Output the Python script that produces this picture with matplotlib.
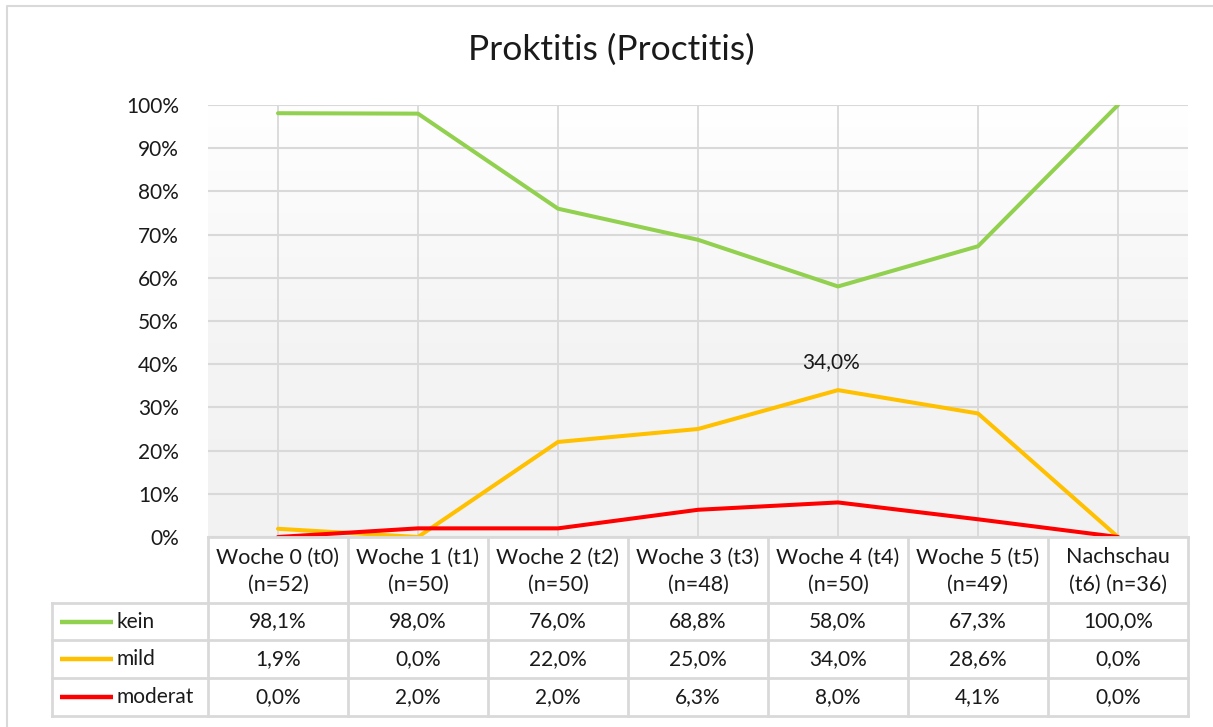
import matplotlib
matplotlib.use("Agg")
import matplotlib.pyplot as plt
import numpy as np
from matplotlib.colors import LinearSegmentedColormap

plt.rcParams['font.family'] = ['Lato', 'DejaVu Sans']

title = "Proktitis (Proctitis)"
categories = ["Woche 0 (t0)\n(n=52)", "Woche 1 (t1)\n(n=50)", "Woche 2 (t2)\n(n=50)",
              "Woche 3 (t3)\n(n=48)", "Woche 4 (t4)\n(n=50)", "Woche 5 (t5)\n(n=49)",
              "Nachschau\n(t6) (n=36)"]
series_names = ["kein", "mild", "moderat"]
kein = [98.1, 98.0, 76.0, 68.8, 58.0, 67.3, 100.0]
mild = [1.9, 0.0, 22.0, 25.0, 34.0, 28.6, 0.0]
moderat = [0.0, 2.0, 2.0, 6.3, 8.0, 4.1, 0.0]
colors = ["#92d050", "#ffc000", "#ff0000"]
yticks = [0, 10, 20, 30, 40, 50, 60, 70, 80, 90, 100]

W, H = 1213, 727
fig = plt.figure(figsize=(W / 100, H / 100), dpi=100)
fig.patch.set_facecolor("white")

# plot area in pixels
x0, x1 = 208, 1188
y_top, y_bot = 105, 537
ax = fig.add_axes([x0 / W, 1 - y_bot / H, (x1 - x0) / W, (y_bot - y_top) / H])
n = len(categories)
ax.set_xlim(-0.5, n - 0.5)
ax.set_ylim(0, 100)

# gradient background
grad = np.linspace(0, 1, 256).reshape(-1, 1)
cmap = LinearSegmentedColormap.from_list("g", [(0, "#f2f2f2"), (0.45, "#f4f4f4"), (1, "#ffffff")])
ax.imshow(grad, extent=(-0.5, n - 0.5, 0, 100), origin="lower", aspect="auto", cmap=cmap, zorder=0)

for s in ax.spines.values():
    s.set_visible(False)
ax.set_xticks([])
ax.set_yticks(yticks)
ax.set_yticklabels([f"{v}%" for v in yticks], fontsize=15, color="#1a1a1a")
ax.tick_params(axis="y", length=0, pad=21)
for v in yticks:
    ax.axhline(v, color="#d9d9d9", lw=1.5, zorder=1)
for i in range(n):
    ax.plot([i, i], [0, 100], color="#d9d9d9", lw=1.3, zorder=1)

data = [kein, mild, moderat]
xs = np.arange(n)
for vals, c in zip(data, colors):
    ax.plot(xs, vals, color=c, lw=2.9, zorder=3, solid_capstyle="round")

# data label
imax = int(np.argmax(mild))
ax.annotate(f"{mild[imax]:.1f}%".replace(".", ","), (xs[imax], mild[imax]),
            xytext=(-5, 20), textcoords="offset points", ha="center", va="center",
            fontsize=15, color="#1a1a1a", zorder=4)

# title
fig.text(611 / W, 1 - 50 / H, title, ha="center", va="center", fontsize=25.5, color="#1a1a1a")

# overlay for table, pixel coords
ov = fig.add_axes([0, 0, 1, 1], zorder=5)
ov.set_xlim(0, W)
ov.set_ylim(H, 0)
ov.axis("off")
ov.patch.set_alpha(0)

gc = "#d9d9d9"
# outer chart border
ov.plot([7, 7, W + 5], [H + 5, 6, 6], color=gc, lw=1.5)

cw = (x1 - x0) / n
rows_y = [537, 603, 640, 678, 716]
# horizontal lines
ov.plot([x0, x1], [rows_y[0], rows_y[0]], color=gc, lw=2)
for y in rows_y[1:]:
    ov.plot([52, x1], [y, y], color=gc, lw=2)
# vertical lines
for i in range(n + 1):
    xx = x0 + i * cw
    ov.plot([xx, xx], [rows_y[0], rows_y[-1]], color=gc, lw=2)
ov.plot([52, 52], [rows_y[1], rows_y[-1]], color=gc, lw=2)

# header text
for i, c in enumerate(categories):
    ov.text(x0 + (i + 0.5) * cw, (rows_y[0] + rows_y[1]) / 2 + 1, c, ha="center", va="center",
            fontsize=15.5, color="#1a1a1a", linespacing=1.45)

# rows
for r, (name, vals, c) in enumerate(zip(series_names, data, colors)):
    yc = (rows_y[r + 1] + rows_y[r + 2]) / 2
    ov.plot([60, 113], [yc, yc], color=c, lw=3.2, solid_capstyle="butt")
    ov.text(117, yc, name, ha="left", va="center", fontsize=15, color="#1a1a1a")
    for i, v in enumerate(vals):
        ov.text(x0 + (i + 0.5) * cw, yc, f"{v:.1f}%".replace(".", ","), ha="center", va="center",
                fontsize=15, color="#1a1a1a")

fig.savefig("out.png", dpi=100)
